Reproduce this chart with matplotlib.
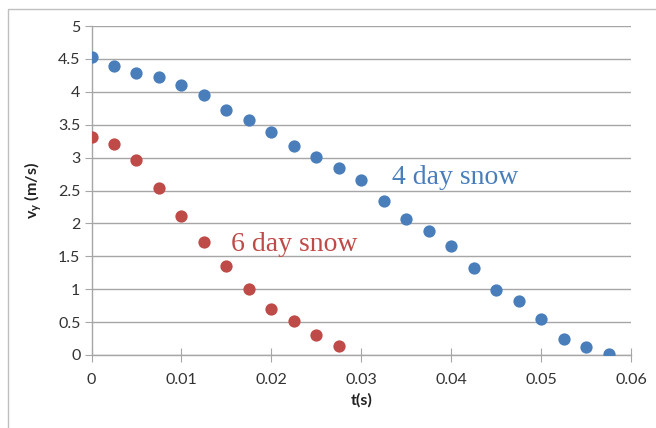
import numpy as np
import matplotlib
matplotlib.use('Agg')
import matplotlib.pyplot as plt
from matplotlib.patches import Rectangle

# data
t_4day = [0, 0.0025, 0.005, 0.0075, 0.01, 0.0125, 0.015, 0.0175, 0.02, 0.0225, 0.025, 0.0275,
          0.03, 0.0325, 0.035, 0.0375, 0.04, 0.0425, 0.045, 0.0475, 0.05, 0.0525, 0.055, 0.0575]
vy_4day = [4.53, 4.39, 4.28, 4.23, 4.11, 3.96, 3.72, 3.57, 3.39, 3.18, 3.01, 2.84,
           2.66, 2.34, 2.06, 1.88, 1.66, 1.33, 0.99, 0.82, 0.54, 0.25, 0.12, 0.02]

t_6day = [0, 0.0025, 0.005, 0.0075, 0.01, 0.0125, 0.015, 0.0175, 0.02, 0.0225, 0.025, 0.0275]
vy_6day = [3.32, 3.21, 2.97, 2.54, 2.11, 1.72, 1.36, 1.00, 0.70, 0.52, 0.31, 0.13]

x_ticks = [0, 0.01, 0.02, 0.03, 0.04, 0.05, 0.06]
x_labels = ['0', '0.01', '0.02', '0.03', '0.04', '0.05', '0.06']
y_ticks = [0, 0.5, 1, 1.5, 2, 2.5, 3, 3.5, 4, 4.5, 5]
y_labels = ['0', '0.5', '1', '1.5', '2', '2.5', '3', '3.5', '4', '4.5', '5']

blue = '#4A7EBB'
red = '#BE4B48'
grid_col = '#A6A6A6'

plt.rcParams['font.family'] = ['Lato', 'DejaVu Sans']
plt.rcParams['mathtext.fontset'] = 'custom'
plt.rcParams['mathtext.bf'] = 'Lato:bold'

fig = plt.figure(figsize=(6.56, 4.28), dpi=100)
ax = fig.add_axes([0.1395, 0.1706, 0.8225, 0.7684])

# outer chart border (partly cropped like the reference)
fig.patches.append(Rectangle((8 / 656, -0.1), 1.1, 1.1 - 9 / 428,
                             transform=fig.transFigure, fill=False,
                             edgecolor='#BFBFBF', linewidth=1.0))

ax.scatter(t_4day, vy_4day, s=78, color=blue, zorder=3, linewidths=0)
ax.scatter(t_6day, vy_6day, s=78, color=red, zorder=3, linewidths=0)

ax.set_xlim(0, 0.06)
ax.set_ylim(0, 5)
ax.set_xticks(x_ticks)
ax.set_xticklabels(x_labels)
ax.set_yticks(y_ticks)
ax.set_yticklabels(y_labels)

ax.yaxis.grid(True, color=grid_col, linewidth=1.0)
ax.set_axisbelow(True)
for side in ['top', 'right']:
    ax.spines[side].set_visible(False)
for side in ['left', 'bottom']:
    ax.spines[side].set_color(grid_col)
    ax.spines[side].set_linewidth(1.0)

ax.tick_params(axis='x', direction='inout', length=10, color=grid_col, pad=8,
               labelsize=11.5, labelcolor='#333333')
ax.tick_params(axis='y', direction='out', length=5, color=grid_col, pad=3,
               labelsize=11.5, labelcolor='#333333')

ax.set_xlabel('t(s)', fontsize=11.5, fontweight='bold', color='#222222', labelpad=4)
ax.set_ylabel(r'$\mathbf{v_y}$ (m/s)', fontsize=11.5, fontweight='bold', color='#222222',
              labelpad=10)

ax.text(0.0334, 2.7, '4 day snow', fontsize=20, color=blue, family='Liberation Serif',
        va='center', ha='left')
ax.text(0.0155, 1.68, '6 day snow', fontsize=20, color=red, family='Liberation Serif',
        va='center', ha='left')

fig.savefig('out.png', dpi=100)
